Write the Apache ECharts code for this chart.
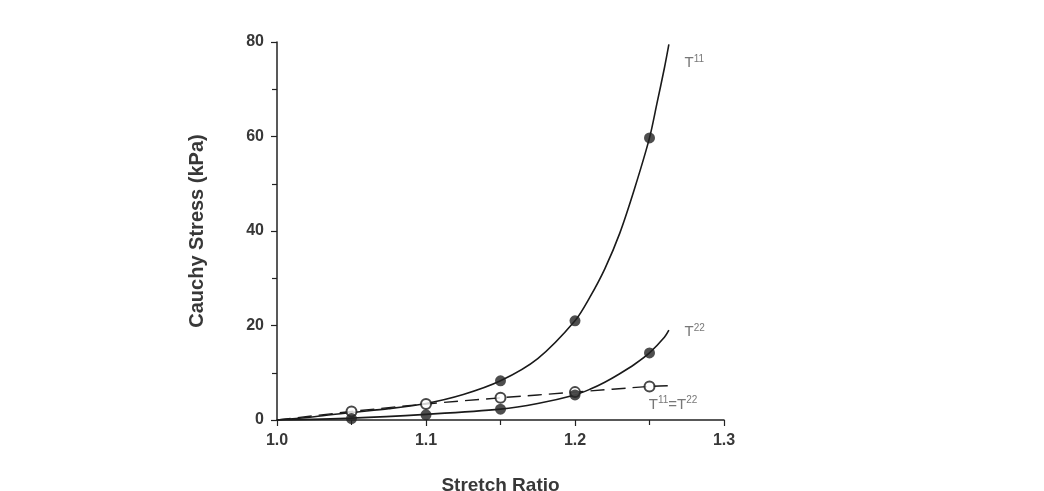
<!DOCTYPE html>
<html>
<head>
<meta charset="utf-8">
<script src="https://cdn.jsdelivr.net/npm/echarts@6/dist/echarts.min.js"></script>
<style>
html,body{margin:0;padding:0;background:#fff;}
#chart{width:1044px;height:491px;}
</style>
</head>
<body>
<div id="chart"></div>
<script>
// ---- data ----
var t11CurveX = [1.0, 1.025, 1.05, 1.075, 1.1, 1.125, 1.15, 1.175, 1.2, 1.21, 1.22, 1.23, 1.24, 1.25, 1.255, 1.26, 1.263];
var t11CurveY = [0, 0.7, 1.6, 2.4, 3.5, 5.4, 8.3, 13, 21, 26, 32, 39.5, 49, 59.7, 67, 74.5, 79.5];
var t22CurveX = [1.0, 1.05, 1.1, 1.15, 1.175, 1.2, 1.21, 1.22, 1.23, 1.24, 1.25, 1.26, 1.263];
var t22CurveY = [0, 0.4, 1.2, 2.3, 3.5, 5.3, 6.5, 8, 9.8, 11.8, 14.2, 17.5, 19];
var eqCurveX = [1.0, 1.05, 1.1, 1.15, 1.2, 1.25, 1.266];
var eqCurveY = [0, 1.8, 3.4, 4.7, 5.9, 7.1, 7.3];

var t11PtsX = [1.15, 1.2, 1.25];
var t11PtsY = [8.3, 21, 59.7];
var t22PtsX = [1.05, 1.1, 1.15, 1.2, 1.25];
var t22PtsY = [0.3, 1.1, 2.3, 5.3, 14.2];
var eqPtsX = [1.05, 1.1, 1.15, 1.2, 1.25];
var eqPtsY = [1.8, 3.4, 4.7, 5.9, 7.1];

var xTicks = [1.0, 1.1, 1.2, 1.3];
var yTicks = [0, 20, 40, 60, 80];

var xTitle = 'Stretch Ratio';
var yTitle = 'Cauchy Stress (kPa)';

// annotation anchors (data space)
var labelT11 = [1.2735, 75.5];
var labelT22 = [1.2735, 18.6];
var labelEq = [1.2495, 3.3];

function pairs(xs, ys){ return xs.map(function(x,i){return [x, ys[i]];}); }

var chart = echarts.init(document.getElementById('chart'));
var axisCol = '#222';
var textCol = '#383838';
var font = '"Liberation Sans", Arial, sans-serif';

var rich = {
  b: {fontSize: 15, color: '#555', fontFamily: font},
  s: {fontSize: 10, color: '#555', fontFamily: font, verticalAlign: 'top', padding: [0,0,8,0]}
};

function annot(coord, text){
  return {
    type: 'scatter', data: [coord], symbolSize: 0, silent: true,
    label: {show: true, position: 'right', distance: 0, formatter: text, rich: rich},
    z: 5
  };
}

chart.setOption({
  backgroundColor: '#fff',
  animation: false,
  grid: {left: 277, right: 320, top: 42, bottom: 71, containLabel: false, outerBoundsMode: 'none'},
  xAxis: {
    type: 'value', min: 1.0, max: 1.3, interval: 0.1,
    axisLine: {lineStyle: {color: axisCol, width: 1.5}},
    axisTick: {show: true, length: 6, lineStyle: {color: axisCol, width: 1.2}},
    minorTick: {show: true, splitNumber: 2, length: 5, lineStyle: {color: axisCol, width: 1.2}},
    splitLine: {show: false},
    axisLabel: {
      margin: 13, color: textCol, fontWeight: 'bold', fontSize: 16, fontFamily: font,
      formatter: function(v){ return v.toFixed(1); },
      customValues: xTicks
    },
    name: xTitle, nameLocation: 'middle', nameGap: 56,
    nameTextStyle: {color: textCol, fontWeight: 'bold', fontSize: 19, fontFamily: font}
  },
  yAxis: {
    type: 'value', min: 0, max: 80, interval: 20,
    axisLine: {lineStyle: {color: axisCol, width: 1.5}},
    axisTick: {show: true, length: 6, lineStyle: {color: axisCol, width: 1.2}},
    minorTick: {show: true, splitNumber: 2, length: 5, lineStyle: {color: axisCol, width: 1.2}},
    splitLine: {show: false},
    axisLabel: {
      margin: 13, color: textCol, fontWeight: 'bold', fontSize: 16, fontFamily: font,
      customValues: yTicks
    },
    name: yTitle, nameLocation: 'middle', nameGap: 70, nameRotate: 90,
    nameTextStyle: {color: textCol, fontWeight: 'bold', fontSize: 20, fontFamily: font}
  },
  series: [
    {type: 'line', data: pairs(t11CurveX, t11CurveY), smooth: 0.3, showSymbol: false,
     lineStyle: {color: '#1a1a1a', width: 1.6}},
    {type: 'line', data: pairs(t22CurveX, t22CurveY), smooth: 0.3, showSymbol: false,
     lineStyle: {color: '#1a1a1a', width: 1.6}},
    {type: 'line', data: pairs(eqCurveX, eqCurveY), smooth: 0.3, showSymbol: false,
     lineStyle: {color: '#1a1a1a', width: 1.4, type: [14, 7]}},
    {type: 'scatter', data: pairs(eqPtsX, eqPtsY), symbol: 'circle', symbolSize: 10,
     itemStyle: {color: '#fff', borderColor: '#1a1a1a', borderWidth: 2}, z: 3},
    {type: 'scatter', data: pairs(t22PtsX, t22PtsY), symbol: 'circle', symbolSize: 11,
     itemStyle: {color: '#222'}, z: 4},
    {type: 'scatter', data: pairs(t11PtsX, t11PtsY), symbol: 'circle', symbolSize: 11,
     itemStyle: {color: '#222'}, z: 4},
    annot(labelT11, '{b|T}{s|11}'),
    annot(labelT22, '{b|T}{s|22}'),
    annot(labelEq, '{b|T}{s|11}{b|=T}{s|22}')
  ]
});
</script>
</body>
</html>
